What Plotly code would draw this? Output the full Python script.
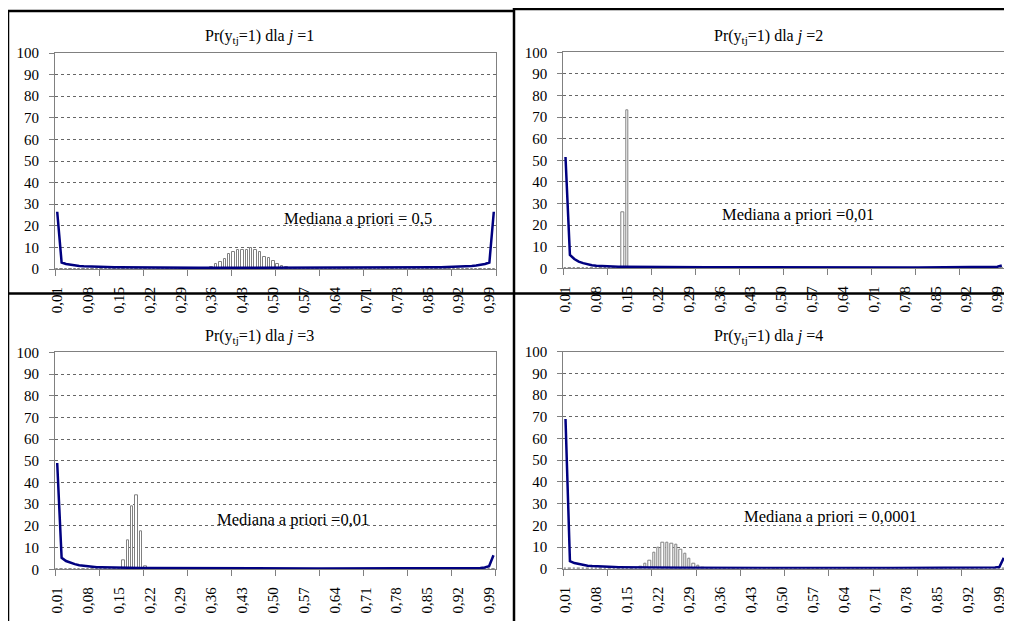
import plotly.graph_objects as go

# The page body has an 8 px default margin, so the figure is drawn 8 px smaller
# and every pixel position is shifted by that offset.
OFF = 8
W, H = 1012 - OFF, 621 - OFF

# ---------------- data ----------------
bins = [round(k / 100, 2) for k in range(1, 101)]   # bin labels 0,01 ... 1,00

tick_vals = [0.01, 0.08, 0.15, 0.22, 0.29, 0.36, 0.43, 0.50, 0.57, 0.64, 0.71, 0.78, 0.85, 0.92, 0.99]
tick_text = ["0,01", "0,08", "0,15", "0,22", "0,29", "0,36", "0,43", "0,50", "0,57", "0,64",
             "0,71", "0,78", "0,85", "0,92", "0,99"]
minor_tick_vals = [0.005, 0.105, 0.205, 0.305, 0.405, 0.505, 0.605, 0.705, 0.805, 0.905, 1.005]
y_tick_vals = [0, 10, 20, 30, 40, 50, 60, 70, 80, 90, 100]

titles = ["Pr(y<sub>tj</sub>=1) dla <i>j</i> =1", "Pr(y<sub>tj</sub>=1) dla <i>j</i> =2",
          "Pr(y<sub>tj</sub>=1) dla <i>j</i> =3", "Pr(y<sub>tj</sub>=1) dla <i>j</i> =4"]
notes = ["Mediana a priori = 0,5", "Mediana a priori =0,01",
         "Mediana a priori =0,01", "Mediana a priori = 0,0001"]

prior_1 = [26.5, 3.0, 2.3, 1.9, 1.6, 1.4, 1.25, 1.15, 1.05, 1.0,
           0.95, 0.9, 0.86, 0.82, 0.79, 0.76, 0.73, 0.71, 0.69, 0.67,
           0.65, 0.64, 0.62, 0.61, 0.6, 0.59, 0.58, 0.57, 0.56, 0.56,
           0.55, 0.54, 0.54, 0.53, 0.53, 0.52, 0.52, 0.52, 0.51, 0.51,
           0.51, 0.51, 0.5, 0.5, 0.5, 0.5, 0.5, 0.5, 0.5, 0.5,
           0.5, 0.5, 0.5, 0.5, 0.5, 0.5, 0.5, 0.5, 0.51, 0.51,
           0.51, 0.51, 0.52, 0.52, 0.52, 0.53, 0.53, 0.54, 0.54, 0.55,
           0.56, 0.56, 0.57, 0.58, 0.59, 0.6, 0.61, 0.62, 0.64, 0.65,
           0.67, 0.69, 0.71, 0.73, 0.76, 0.79, 0.82, 0.86, 0.9, 0.95,
           1.0, 1.05, 1.15, 1.25, 1.4, 1.6, 1.9, 2.3, 3.0, 26.5]

prior_2 = [51.5, 6.2, 4.3, 3.1, 2.4, 1.8, 1.45, 1.2, 1.05, 0.95,
           0.88, 0.82, 0.77, 0.73, 0.7, 0.67, 0.64, 0.62, 0.6, 0.58,
           0.56, 0.55, 0.54, 0.53, 0.52, 0.51, 0.5, 0.49, 0.48, 0.47,
           0.46, 0.46, 0.45, 0.45, 0.44, 0.44, 0.43, 0.43, 0.42, 0.42,
           0.42, 0.41, 0.41, 0.41, 0.4, 0.4, 0.4, 0.4, 0.39, 0.39,
           0.39, 0.39, 0.38, 0.38, 0.38, 0.38, 0.38, 0.37, 0.37, 0.37,
           0.37, 0.37, 0.37, 0.36, 0.36, 0.36, 0.36, 0.36, 0.36, 0.36,
           0.36, 0.36, 0.36, 0.36, 0.36, 0.36, 0.36, 0.36, 0.36, 0.37,
           0.37, 0.37, 0.37, 0.38, 0.38, 0.38, 0.39, 0.39, 0.4, 0.4,
           0.41, 0.42, 0.43, 0.44, 0.46, 0.48, 0.52, 0.58, 0.7, 1.3]

prior_3 = [49.0, 5.3, 3.8, 3.0, 2.4, 1.9, 1.6, 1.35, 1.15, 1.0,
           0.92, 0.85, 0.79, 0.74, 0.7, 0.67, 0.64, 0.62, 0.6, 0.58,
           0.56, 0.55, 0.54, 0.53, 0.52, 0.51, 0.5, 0.49, 0.48, 0.47,
           0.46, 0.46, 0.45, 0.45, 0.44, 0.44, 0.43, 0.43, 0.42, 0.42,
           0.42, 0.41, 0.41, 0.41, 0.4, 0.4, 0.4, 0.4, 0.39, 0.39,
           0.39, 0.39, 0.38, 0.38, 0.38, 0.38, 0.38, 0.37, 0.37, 0.37,
           0.37, 0.37, 0.37, 0.37, 0.37, 0.37, 0.37, 0.37, 0.37, 0.37,
           0.37, 0.37, 0.37, 0.37, 0.37, 0.38, 0.38, 0.38, 0.38, 0.38,
           0.39, 0.39, 0.39, 0.4, 0.4, 0.4, 0.41, 0.41, 0.42, 0.42,
           0.42, 0.43, 0.45, 0.47, 0.5, 0.55, 0.62, 0.8, 1.4, 6.5]

prior_4 = [69.0, 3.5, 2.6, 2.1, 1.7, 1.4, 1.2, 1.05, 0.95, 0.85,
           0.8, 0.75, 0.7, 0.66, 0.62, 0.59, 0.56, 0.54, 0.52, 0.5,
           0.48, 0.47, 0.46, 0.45, 0.44, 0.43, 0.42, 0.41, 0.4, 0.39,
           0.39, 0.38, 0.38, 0.37, 0.37, 0.36, 0.36, 0.36, 0.35, 0.35,
           0.35, 0.35, 0.34, 0.34, 0.34, 0.34, 0.34, 0.33, 0.33, 0.33,
           0.33, 0.33, 0.33, 0.33, 0.33, 0.33, 0.33, 0.33, 0.33, 0.33,
           0.33, 0.33, 0.33, 0.33, 0.33, 0.33, 0.33, 0.33, 0.33, 0.33,
           0.33, 0.33, 0.33, 0.33, 0.33, 0.33, 0.33, 0.33, 0.34, 0.34,
           0.34, 0.34, 0.34, 0.34, 0.35, 0.35, 0.35, 0.35, 0.35, 0.36,
           0.36, 0.37, 0.38, 0.4, 0.42, 0.45, 0.5, 0.58, 0.75, 5.0]

post_1 = [0, 0, 0, 0, 0, 0, 0, 0, 0, 0,
          0, 0, 0, 0, 0, 0, 0, 0, 0, 0,
          0, 0, 0, 0, 0, 0, 0, 0, 0, 0,
          0, 0, 0, 0, 0, 0.8, 2.2, 3.2, 4.6, 6.8,
          7.8, 8.6, 8.7, 8.8, 9.6, 8.6, 7.9, 5.6, 4.9, 3.6,
          2.2, 1.4, 0.8, 0.3, 0, 0, 0, 0, 0, 0,
          0, 0, 0, 0, 0, 0, 0, 0, 0, 0,
          0, 0, 0, 0, 0, 0, 0, 0, 0, 0,
          0, 0, 0, 0, 0, 0, 0, 0, 0, 0,
          0, 0, 0, 0, 0, 0, 0, 0, 0, 0]

post_2 = [0, 0, 0, 0, 0, 0, 0, 0, 0, 0,
          0, 0, 0, 26.0, 73.0, 0.6, 0, 0, 0, 0,
          0, 0, 0, 0, 0, 0, 0, 0, 0, 0,
          0, 0, 0, 0, 0, 0, 0, 0, 0, 0,
          0, 0, 0, 0, 0, 0, 0, 0, 0, 0,
          0, 0, 0, 0, 0, 0, 0, 0, 0, 0,
          0, 0, 0, 0, 0, 0, 0, 0, 0, 0,
          0, 0, 0, 0, 0, 0, 0, 0, 0, 0,
          0, 0, 0, 0, 0, 0, 0, 0, 0, 0,
          0, 0, 0, 0, 0, 0, 0, 0, 0, 0]

post_3 = [0, 0, 0, 0, 0, 0, 0, 0, 0, 0,
          0, 0, 0, 0, 0, 4.0, 13.5, 29.0, 34.0, 17.5,
          1.2, 0, 0, 0, 0, 0, 0, 0, 0, 0,
          0, 0, 0, 0, 0, 0, 0, 0, 0, 0,
          0, 0, 0, 0, 0, 0, 0, 0, 0, 0,
          0, 0, 0, 0, 0, 0, 0, 0, 0, 0,
          0, 0, 0, 0, 0, 0, 0, 0, 0, 0,
          0, 0, 0, 0, 0, 0, 0, 0, 0, 0,
          0, 0, 0, 0, 0, 0, 0, 0, 0, 0,
          0, 0, 0, 0, 0, 0, 0, 0, 0, 0]

post_4 = [0, 0, 0, 0, 0, 0, 0, 0, 0, 0,
          0, 0, 0, 0, 0, 0, 0, 1.0, 2.5, 3.5,
          7.4, 9.5, 12.2, 12.2, 11.7, 11.2, 8.9, 6.9, 4.8, 2.5,
          1.4, 0.6, 0, 0, 0, 0, 0, 0, 0, 0,
          0, 0, 0, 0, 0, 0, 0, 0, 0, 0,
          0, 0, 0, 0, 0, 0, 0, 0, 0, 0,
          0, 0, 0, 0, 0, 0, 0, 0, 0, 0,
          0, 0, 0, 0, 0, 0, 0, 0, 0, 0,
          0, 0, 0, 0, 0, 0, 0, 0, 0, 0,
          0, 0, 0, 0, 0, 0, 0, 0, 0, 0]

priors = [prior_1, prior_2, prior_3, prior_4]
posts = [post_1, post_2, post_3, post_4]

# ---------------- layout (pixel geometry in window coordinates) ----------------
boxes = [(55, 496, 53, 269), (563.3, 1004, 52.3, 268.3),
         (55, 495.7, 352.3, 569.3), (563.3, 1006, 351.7, 568.7)]
title_pos = [(259.5, 36.5), (768.5, 36.5), (259.5, 336.5), (768.5, 336)]
note_pos = [(358, 218.5), (797.5, 214), (292.5, 519), (830.5, 516.5)]

FONT = "Liberation Serif, Times New Roman, serif"
GRAY = "#808080"


def px(x):
    return (x - OFF) / W


def py(y):
    return 1 - (y - OFF) / H


fig = go.Figure()
annotations = []
layout_axes = {}

for i in range(4):
    n = i + 1
    xs = "" if n == 1 else str(n)
    xa, ya = "x" + xs, "y" + xs
    l, r, t, b = boxes[i]

    fig.add_trace(go.Bar(
        x=bins, y=posts[i], xaxis=xa, yaxis=ya, width=0.0055,
        marker=dict(color="white", line=dict(color=GRAY, width=1)),
        showlegend=False))
    fig.add_trace(go.Scatter(
        x=bins, y=priors[i], xaxis=xa, yaxis=ya, mode="lines",
        line=dict(color="#000080", width=2.5), showlegend=False))

    layout_axes["xaxis" + xs] = dict(
        domain=[px(l), px(r)], anchor=ya, range=[0.005, 1.005],
        tickmode="array", tickvals=tick_vals, ticktext=tick_text,
        tickangle=-90, ticks="", ticklabelstandoff=11, automargin=False,
        tickfont=dict(family=FONT, size=15, color="black"),
        showgrid=False, zeroline=False,
        showline=True, linecolor=GRAY, linewidth=1, mirror=True,
        minor=dict(tickmode="array", tickvals=minor_tick_vals, ticks="outside",
                   ticklen=6, tickcolor=GRAY, tickwidth=1, showgrid=False),
        fixedrange=True)
    layout_axes["yaxis" + xs] = dict(
        domain=[py(b), py(t)], anchor=xa, range=[0, 100],
        tickmode="array", tickvals=y_tick_vals, automargin=False,
        ticks="outside", ticklen=5, tickcolor=GRAY, tickwidth=1,
        ticklabelstandoff=7,
        tickfont=dict(family=FONT, size=15, color="black"),
        showgrid=True, gridcolor="#666666", griddash="dot", gridwidth=1,
        zeroline=False, showline=True, linecolor=GRAY, linewidth=1, mirror=True,
        fixedrange=True)

    tx, ty = title_pos[i]
    annotations.append(dict(
        text=titles[i], x=px(tx), y=py(ty), xref="paper", yref="paper",
        xanchor="center", yanchor="middle", showarrow=False,
        font=dict(family=FONT, size=16, color="black")))
    nx, ny = note_pos[i]
    annotations.append(dict(
        text=notes[i], x=px(nx), y=py(ny), xref="paper", yref="paper",
        xanchor="center", yanchor="middle", showarrow=False,
        font=dict(family=FONT, size=16.5, color="black")))

# black frame lines of the composite figure (window pixels)
frame = [
    (7, 11, 514, 11),         # top line, left chart
    (514, 9, 1012, 9),        # top line, right chart
    (8, 10, 8, 621),          # left edge
    (514, 8, 514, 621),       # middle vertical
    (7, 293.5, 1012, 293.5),  # middle horizontal
]
shapes = [dict(type="line", xref="paper", yref="paper",
               x0=px(a), y0=py(b_), x1=px(c), y1=py(d),
               line=dict(color="black", width=2.5), layer="above")
          for a, b_, c, d in frame]

fig.update_layout(
    template="none",
    width=W, height=H, margin=dict(l=0, r=0, t=0, b=0, pad=0),
    paper_bgcolor="white", plot_bgcolor="white",
    bargap=0, barmode="overlay", showlegend=False,
    annotations=annotations, shapes=shapes,
    font=dict(family=FONT, size=15, color="black"),
    **layout_axes)

fig.write_html("out.html")
